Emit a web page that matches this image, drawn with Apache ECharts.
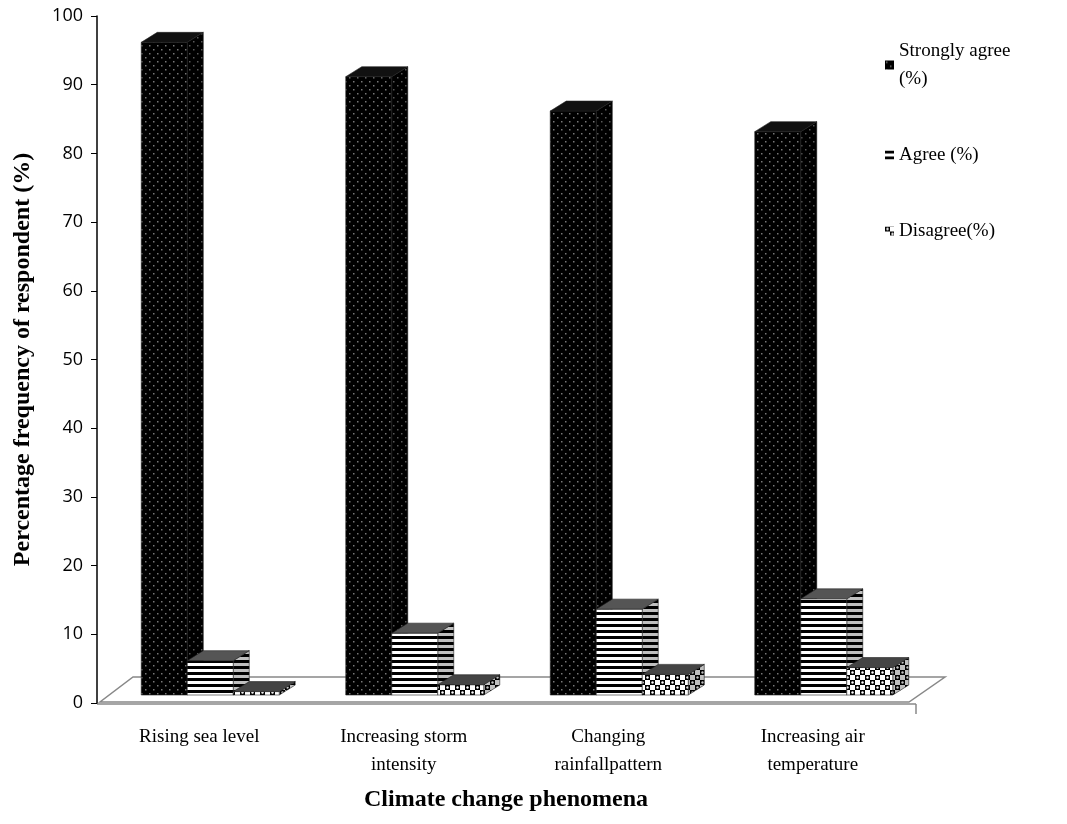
<!DOCTYPE html><html><head><meta charset="utf-8">
<script src="https://cdn.jsdelivr.net/npm/echarts@6/dist/echarts.min.js"></script>
<style>body{margin:0}#c{width:1067px;height:824px}</style></head><body><div id="c"></div>
<script>
const categories=['Rising sea level','Increasing storm\nintensity','Changing\nrainfallpattern','Increasing air\ntemperature'];
const seriesNames=['Strongly agree\n(%)','Agree (%)','Disagree(%)'];
const stronglyAgree=[95,90,85,82];
const agree=[5,9,12.5,14];
const disagree=[0.5,1.5,3,4];
const yTicks=[0,10,20,30,40,50,60,70,80,90,100];

function pat(kind){
  const c=document.createElement('canvas');const x=c.getContext('2d');
  if(kind===0){c.width=8;c.height=8;x.fillStyle='#000';x.fillRect(0,0,8,8);x.fillStyle='#777';x.fillRect(1,1,1.5,1.5);x.fillRect(5,5,1.5,1.5);}
  else if(kind===1){c.width=4;c.height=6;x.fillStyle='#fff';x.fillRect(0,0,4,6);x.fillStyle='#000';x.fillRect(0,0,4,3);}
  else {c.width=10;c.height=10;x.fillStyle='#fff';x.fillRect(0,0,10,10);x.fillStyle='#000';
    x.fillRect(0,0,5,5);x.fillRect(5,5,5,5);x.fillStyle='#fff';x.beginPath();x.arc(2.5,2.5,1.2,0,7);x.fill();x.beginPath();x.arc(7.5,7.5,1.2,0,7);x.fill();}
  return {image:c,repeat:'repeat'};
}
const pats=[pat(0),pat(1),pat(2)];
const dark=['#111','#555','#444'];
const dataSets=[stronglyAgree,agree,disagree];
const W=46,DX=16,DY=10,LIFT=8;
function mk(k){
  return {type:'custom',name:seriesNames[k],itemStyle:{color:pats[k]},z:3+k,
    renderItem:function(params,api){
      const i=api.value(0),v=api.value(1);
      const c=api.coord([i,0]);const t=api.coord([i,v]);
      const x0=c[0]-58+k*W, x1=x0+W, yb=c[1]-LIFT, yt=t[1]-LIFT;
      const st={fill:pats[k],stroke:'#222',lineWidth:0.6};
      return {type:'group',children:[
        {type:'polygon',shape:{points:[[x1,yb],[x1+DX,yb-DY],[x1+DX,yt-DY],[x1,yt]]},style:{fill:pats[k],stroke:'#222',lineWidth:0.6}},
        {type:'polygon',shape:{points:[[x1,yb],[x1+DX,yb-DY],[x1+DX,yt-DY],[x1,yt]]},style:{fill:'rgba(0,0,0,0.25)'}},
        {type:'rect',shape:{x:x0,y:yt,width:W,height:yb-yt},style:st},
        {type:'polygon',shape:{points:[[x0,yt],[x1,yt],[x1+DX,yt-DY],[x0+DX,yt-DY]]},style:{fill:dark[k],stroke:'#222',lineWidth:0.6}}
      ]};
    },
    data:dataSets[k].map((v,i)=>[i,v])};
}
const floor={type:'custom',silent:true,z:1,renderItem:function(p,api){
  if(p.dataIndex!==0)return;
  const bw=api.size([1,0])[0];
  const a0=api.coord([0,0]),b0=api.coord([3,0]);
  const ax=a0[0]-bw/2, bx=b0[0]+bw/2, y=a0[1];
  return {type:'polygon',shape:{points:[[ax+3,y-1],[bx-6,y-1],[bx+30,y-26],[ax+36,y-26]]},style:{fill:'#fff',stroke:'#888',lineWidth:1.5}};
},data:[[0,0]]};
const chart=echarts.init(document.getElementById('c'));
chart.setOption({
  animation:false,
  textStyle:{fontFamily:'Liberation Serif'},
  grid:{left:97,right:152,top:16,bottom:121},
  legend:{orient:'vertical',left:880,top:32,itemWidth:9,itemHeight:9,itemGap:48,icon:'rect',
    textStyle:{fontFamily:'Liberation Serif',fontSize:19,color:'#000',lineHeight:28},data:seriesNames},
  xAxis:{type:'category',data:categories,axisTick:{show:false},axisLine:{show:false},
    axisLabel:{fontSize:19,color:'#000',lineHeight:28,margin:20,interval:0},
    name:'Climate change phenomena',nameLocation:'middle',nameGap:85,
    nameTextStyle:{fontSize:24,fontWeight:'bold',color:'#000'}},
  yAxis:{type:'value',min:0,max:100,interval:10,splitLine:{show:false},
    axisLine:{show:true,lineStyle:{color:'#000',width:1.5}},axisTick:{show:true,length:6,lineStyle:{color:'#000'}},
    axisLabel:{fontSize:18,color:'#000',margin:14,fontFamily:'Open Sans'},
    name:'Percentage frequency of respondent (%)',nameLocation:'middle',nameGap:62,
    nameTextStyle:{fontSize:24,fontWeight:'bold',color:'#000'}},
  graphic:[{type:'line',shape:{x1:97,y1:704,x2:916,y2:704},style:{stroke:'#888',lineWidth:1.5},z:0},
    {type:'line',shape:{x1:916,y1:704,x2:916,y2:714},style:{stroke:'#888',lineWidth:1.5}}],
  series:[floor,mk(0),mk(1),mk(2)]
});
</script></body></html>
